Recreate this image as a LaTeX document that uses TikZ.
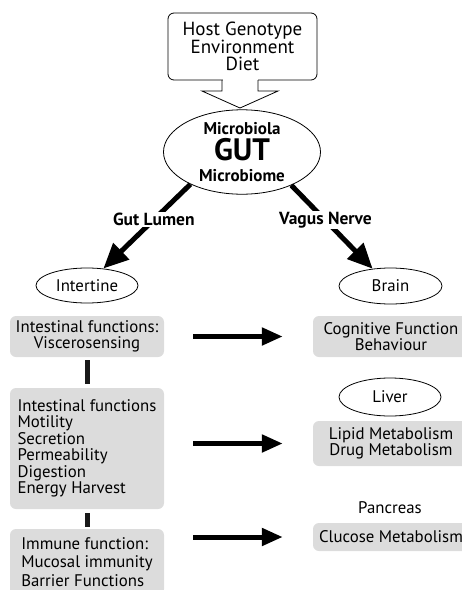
\documentclass[tikz,border=0pt]{standalone}
\usepackage{fontspec}
\setmainfont{PT Sans}
\usetikzlibrary{shapes.geometric,arrows.meta}
\definecolor{boxgray}{RGB}{220,220,220}
\begin{document}
\begin{tikzpicture}[x=1pt,y=-1pt]
        \tikzstyle{block} = [rectangle, rounded corners=6pt, fill=boxgray, text=black, text centered, font=\fontsize{16.8}{16.5}\selectfont, inner sep=0pt]
        \tikzstyle{oval} = [ellipse, draw=black, line width=.8pt, text=black, font=\fontsize{16.8}{16.5}\selectfont, inner sep=0pt]
        \tikzstyle{line} = [-{Triangle[length=21pt,width=17pt]},draw=black,line width=5pt]
        \tikzstyle{bigline} = [-{Triangle[length=25pt,width=22pt]},draw=black,line width=5pt]
        \tikzstyle{bar} = [draw=black!90,line width=5pt]
        \tikzstyle{lbl} = [fill=white, inner sep=1pt, font=\fontsize{17.5}{18}\selectfont\bfseries]
        \useasboundingbox (0,0) rectangle (462,590);
        \node[draw=black, line width=.8pt, rounded corners=6pt, minimum width=149pt, minimum height=67pt, align=center, font=\fontsize{19}{17.5}\selectfont] (host) at (242.5,46.5) {Host Genotype\\Environment\\Diet};
        % open pointer below the box
        \fill[white] (222.5,78) rectangle (257.5,82);
        \draw[line width=.8pt] (222,80) -- (222,91) -- (202,91) -- (240,108) -- (278,91) -- (258,91) -- (258,80);
        \node[oval, minimum width=157pt, minimum height=81pt, align=center, font=\bfseries\fontsize{17}{19}\selectfont] (gut) at (242,152) {Microbiola\\[2.5pt]{\fontsize{31}{19}\selectfont GUT}\\[2.5pt]Microbiome};
        \node[oval, minimum width=102pt, minimum height=35pt] (intertine) at (87,285.5) {Intertine};
        \node[oval, minimum width=103pt, minimum height=36pt] (brain) at (390.5,286) {Brain};
        \node[oval, minimum width=102pt, minimum height=38pt] (liver) at (390,397) {Liver};
        \node[font=\fontsize{16.8}{16.5}\selectfont] (pancreas) at (390,508) {Pancreas};
        \node[block, minimum width=154pt, minimum height=41pt, align=center] (visc) at (87,336.5) {Intestinal functions:\\Viscerosensing};
        \node[block, minimum width=154pt, minimum height=121pt, align=left] (motil) at (87,448.5) {Intestinal functions\\Motility\\Secretion\\Permeability\\Digestion\\Energy Harvest};
        \node[block, minimum width=154pt, minimum height=66pt, align=left, font=\fontsize{16.8}{18.5}\selectfont] (immune) at (87,562) {Immune function:\\Mucosal immunity\\Barrier Functions};
        \node[block, minimum width=156pt, minimum height=41pt, align=center] (cogn) at (391,336.5) {Cognitive Function\\Behaviour};
        \node[block, minimum width=156pt, minimum height=45pt, align=center] (lipid) at (391,443.5) {Lipid Metabolism\\Drug Metabolism};
        \node[block, minimum width=156pt, minimum height=28pt] (glucose) at (391,537) {Clucose Metabolism};
        \draw[bigline] (gut.212) to node[lbl,pos=.42] (lumen) {Gut Lumen} (intertine.46);
        \draw[bigline] (gut.326) to node[lbl,pos=.42] (vagus) {Vagus Nerve} (brain.136);
        \draw[bar,shorten <=3pt,shorten >=4pt] (visc) to (motil);
        \draw[bar,shorten <=4pt,shorten >=2pt] (motil) to (immune);
        \draw[line,shorten <=29pt,shorten >=30pt] (visc.east) to (cogn.west);
        \draw[line,shorten <=29pt,shorten >=30pt] (motil.east |- lipid.west) to (lipid.west);
        \draw[line,shorten <=29pt,shorten >=30pt] (immune.east |- glucose.west) to (glucose.west);
\end{tikzpicture}
\end{document}
